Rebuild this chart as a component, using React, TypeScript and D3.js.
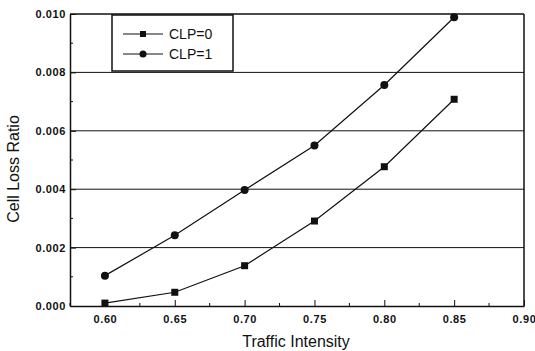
import React, { useRef, useEffect } from 'react';
import * as d3 from 'd3';

// Traffic intensity values
const intensities = [0.6, 0.65, 0.7, 0.75, 0.8, 0.85];
// cell loss ratio per series
const clp0 = [0.0001, 0.00047, 0.00138, 0.00291, 0.00477, 0.00708];
const clp1 = [0.00104, 0.00242, 0.00397, 0.0055, 0.00757, 0.00989];
const xTicks = [0.6, 0.65, 0.7, 0.75, 0.8, 0.85, 0.9];
const xMinor = [0.575, 0.625, 0.675, 0.725, 0.775, 0.825, 0.875];
const yTicks = [0, 0.002, 0.004, 0.006, 0.008, 0.01];
const yMinor = [0.001, 0.003, 0.005, 0.007, 0.009];
const gridVals = [0.002, 0.004, 0.006, 0.008];

const W = 535;
const H = 351;
const margin = { top: 14, right: 11, bottom: 45, left: 70 };
const font = 'Liberation Sans, Arial, sans-serif';

const App = () => {
  const svgRef = useRef<SVGSVGElement>(null);

  useEffect(() => {
    const svg = d3.select(svgRef.current);
    svg.selectAll('*').remove();

    const x = d3.scaleLinear().domain([0.575, 0.9]).range([margin.left, W - margin.right]);
    const y = d3.scaleLinear().domain([0, 0.01]).range([H - margin.bottom, margin.top]);

    svg.append('rect').attr('width', W).attr('height', H).attr('fill', 'white');

    // horizontal grid lines
    svg.selectAll('.grid')
      .data(gridVals)
      .enter()
      .append('line')
      .attr('x1', x(0.575))
      .attr('x2', x(0.9))
      .attr('y1', d => y(d))
      .attr('y2', d => y(d))
      .attr('stroke', '#111')
      .attr('stroke-width', 1);

    // axes with inward ticks
    const xAxis = d3.axisBottom(x).tickValues(xTicks).tickSizeInner(-6).tickSizeOuter(0)
      .tickFormat(d => d3.format('.2f')(d as number));
    const gx = svg.append('g').attr('transform', `translate(0,${y(0)})`).call(xAxis);
    gx.selectAll('text').attr('dy', '1.25em');
    gx.selectAll('g.minor')
      .data(xMinor)
      .enter()
      .append('line')
      .attr('x1', d => x(d)).attr('x2', d => x(d))
      .attr('y1', 0).attr('y2', -3)
      .attr('stroke', '#111');

    const yAxis = d3.axisLeft(y).tickValues(yTicks).tickSizeInner(-6).tickSizeOuter(0)
      .tickFormat(d => d3.format('.3f')(d as number));
    const gy = svg.append('g').attr('transform', `translate(${x(0.575)},0)`).call(yAxis);
    gy.selectAll('text').attr('x', -4);
    gy.selectAll('g.minor')
      .data(yMinor)
      .enter()
      .append('line')
      .attr('y1', d => y(d)).attr('y2', d => y(d))
      .attr('x1', 0).attr('x2', 3)
      .attr('stroke', '#111');

    [gx, gy].forEach(g => {
      g.select('.domain').attr('stroke', '#111').attr('stroke-width', 1.5);
      g.selectAll('.tick line').attr('stroke', '#111');
      g.selectAll('text')
        .style('font-family', font)
        .style('font-size', '11px')
        .style('font-weight', 'bold')
        .style('letter-spacing', '0.6px')
        .attr('fill', '#111');
    });

    // top and right frame
    svg.append('line')
      .attr('x1', x(0.575)).attr('x2', x(0.9))
      .attr('y1', y(0.01)).attr('y2', y(0.01))
      .attr('stroke', '#111').attr('stroke-width', 1.5);
    svg.append('line')
      .attr('x1', x(0.9)).attr('x2', x(0.9))
      .attr('y1', y(0.01)).attr('y2', y(0))
      .attr('stroke', '#111').attr('stroke-width', 1.5);

    const line = d3.line<number>()
      .x((d, i) => x(intensities[i]))
      .y(d => y(d));

    const series = [
      { name: 'CLP=0', values: clp0, shape: 'square' },
      { name: 'CLP=1', values: clp1, shape: 'circle' },
    ];

    series.forEach(s => {
      svg.append('path')
        .attr('d', line(s.values))
        .attr('fill', 'none')
        .attr('stroke', '#111')
        .attr('stroke-width', 1.2);
      s.values.forEach((v, i) => {
        if (s.shape === 'square') {
          svg.append('rect')
            .attr('x', x(intensities[i]) - 3.5).attr('y', y(v) - 3.5)
            .attr('width', 7).attr('height', 7).attr('fill', '#111');
        } else {
          svg.append('circle')
            .attr('cx', x(intensities[i])).attr('cy', y(v))
            .attr('r', 4).attr('fill', '#111');
        }
      });
    });

    // legend
    const lg = svg.append('g');
    lg.append('rect')
      .attr('x', 112).attr('y', 15).attr('width', 121).attr('height', 56)
      .attr('fill', 'white').attr('stroke', '#111').attr('stroke-width', 1.5);
    series.forEach((s, i) => {
      const ly = 34 + i * 20;
      lg.append('line')
        .attr('x1', 123).attr('x2', 163).attr('y1', ly).attr('y2', ly)
        .attr('stroke', '#111').attr('stroke-width', 1.2);
      if (s.shape === 'square') {
        lg.append('rect').attr('x', 140).attr('y', ly - 3).attr('width', 6).attr('height', 6).attr('fill', '#111');
      } else {
        lg.append('circle').attr('cx', 143).attr('cy', ly).attr('r', 3.5).attr('fill', '#111');
      }
      lg.append('text')
        .attr('x', 169).attr('y', ly + 5)
        .text(s.name)
        .style('font-family', font)
        .style('font-size', '14px')
        .attr('fill', '#111');
    });

    // axis titles
    svg.append('text')
      .attr('transform', `translate(18.5,${(y(0) + y(0.01)) / 2 + 9}) rotate(-90)`)
      .attr('text-anchor', 'middle')
      .text('Cell Loss Ratio')
      .style('font-family', font)
      .style('font-size', '16px')
      .attr('fill', '#111');
    svg.append('text')
      .attr('x', 296)
      .attr('y', 347)
      .attr('text-anchor', 'middle')
      .text('Traffic Intensity')
      .style('font-family', font)
      .style('font-size', '16px')
      .attr('fill', '#111');
  }, []);

  return (
    <svg ref={svgRef} width={W} height={H} style={{ position: 'absolute', left: 0, top: 0 }}>
    </svg>
  );
};

export default App;
